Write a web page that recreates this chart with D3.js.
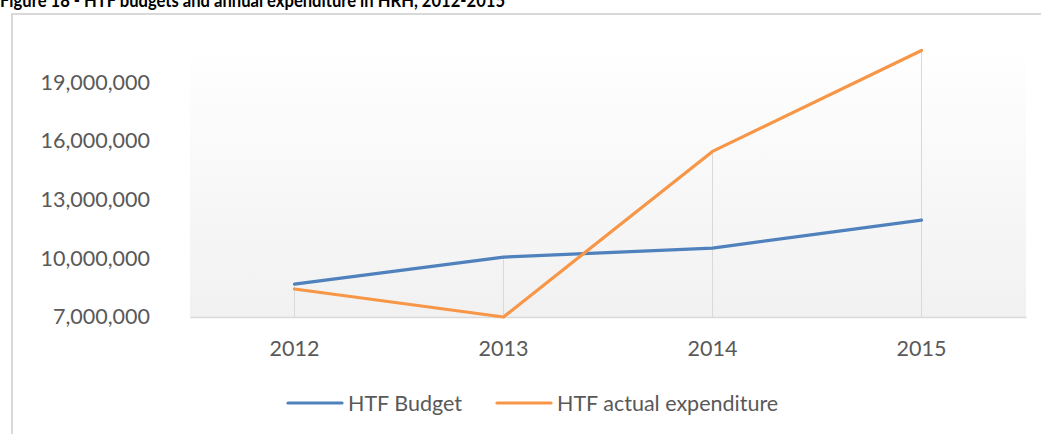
<!DOCTYPE html>
<html>
<head>
<meta charset="utf-8">
<script src="https://cdn.jsdelivr.net/npm/d3@7"></script>
<style>
  body { margin: 0; background: #fff; }
  svg { display: block; font-family: Lato, "Open Sans", sans-serif; }
</style>
</head>
<body>
<script>
const years = ["2012", "2013", "2014", "2015"];
const budget = [8680000, 10060000, 10520000, 11950000];
const actual = [8430000, 7000000, 15460000, 20620000];
const yTicks = [7000000, 10000000, 13000000, 16000000, 19000000];
const seriesNames = ["HTF Budget", "HTF actual expenditure"];
const seriesColors = ["#4f81bd", "#f79646"];

const width = 1041;
const height = 434;

var svg = d3.select('body').append('svg')
    .attr("width", width).attr("height", height);

// title, mostly cut off at the top of the picture
svg.append("text")
    .attr("x", 0).attr("y", 7)
    .attr("font-weight", "bold")
    .attr("font-size", 19)
    .attr("fill", "#000")
    .attr("textLength", 505)
    .attr("lengthAdjust", "spacingAndGlyphs")
    .text("Figure 18 - HTF budgets and annual expenditure in HRH, 2012-2015");

// chart frame (left + top edges visible)
svg.append("path")
    .attr("d", "M12,434V14H1041")
    .attr("fill", "none")
    .attr("stroke", "#d9d9d9")
    .attr("stroke-width", 2);

const x = d3.scaleBand().domain(years).range([190, 1026]);
const y = d3.scaleLinear().domain([7000000, 21000000]).range([317, 43]);
const cx = d => x(d) + x.bandwidth() / 2;

// plot area gradient
const grad = svg.append("defs").append("linearGradient")
    .attr("id", "pa").attr("x1", 0).attr("y1", 0).attr("x2", 0).attr("y2", 1);
grad.append("stop").attr("offset", "0%").attr("stop-color", "#ffffff");
grad.append("stop").attr("offset", "100%").attr("stop-color", "#f1f1f1");

svg.append("rect")
    .attr("x", 190).attr("y", y(21000000))
    .attr("width", 836).attr("height", y(7000000) - y(21000000))
    .attr("fill", "url(#pa)");

// drop lines
svg.append("g").selectAll("line").data(years).enter().append("line")
    .attr("x1", d => cx(d)).attr("x2", d => cx(d))
    .attr("y1", (d, i) => y(Math.max(budget[i], actual[i])))
    .attr("y2", y(7000000))
    .attr("stroke", "#d9d9d9").attr("stroke-width", 1);

// y axis
const yAxis = svg.append("g")
    .attr("transform", "translate(150,0)")
    .call(d3.axisLeft(y).tickValues(yTicks).tickFormat(d3.format(",")).tickSize(0).tickPadding(0));
yAxis.select(".domain").remove();
yAxis.selectAll("text")
    .attr("font-family", "Lato, sans-serif")
    .attr("font-size", 21.5)
    .attr("fill", "#595959");

// x axis
const xAxis = svg.append("g")
    .attr("transform", "translate(0," + y(7000000) + ")")
    .call(d3.axisBottom(x).tickSize(0).tickPadding(24));
xAxis.select(".domain").attr("stroke", "#d9d9d9").attr("stroke-width", 1.5);
xAxis.selectAll("text")
    .attr("font-family", "Lato, sans-serif")
    .attr("font-size", 21.5)
    .attr("fill", "#595959");

// lines
const line = d3.line().x((d, i) => cx(years[i])).y(d => y(d));
[budget, actual].forEach((s, k) => {
  svg.append("path")
      .attr("d", line(s))
      .attr("fill", "none")
      .attr("stroke", seriesColors[k])
      .attr("stroke-width", 3.2)
      .attr("stroke-linejoin", "round")
      .attr("stroke-linecap", "round");
});

// legend
const legendX = [288, 497];
seriesNames.forEach((name, k) => {
  const g = svg.append("g").attr("transform", "translate(" + legendX[k] + ",403)");
  g.append("line").attr("x1", 0).attr("x2", 54).attr("y1", 0).attr("y2", 0)
      .attr("stroke", seriesColors[k]).attr("stroke-width", 3.2).attr("stroke-linecap", "round");
  g.append("text").attr("x", 60).attr("y", 0).attr("dy", "0.35em")
      .attr("font-size", 21.5).attr("fill", "#595959")
      .text(name);
});
</script>
</body>
</html>
